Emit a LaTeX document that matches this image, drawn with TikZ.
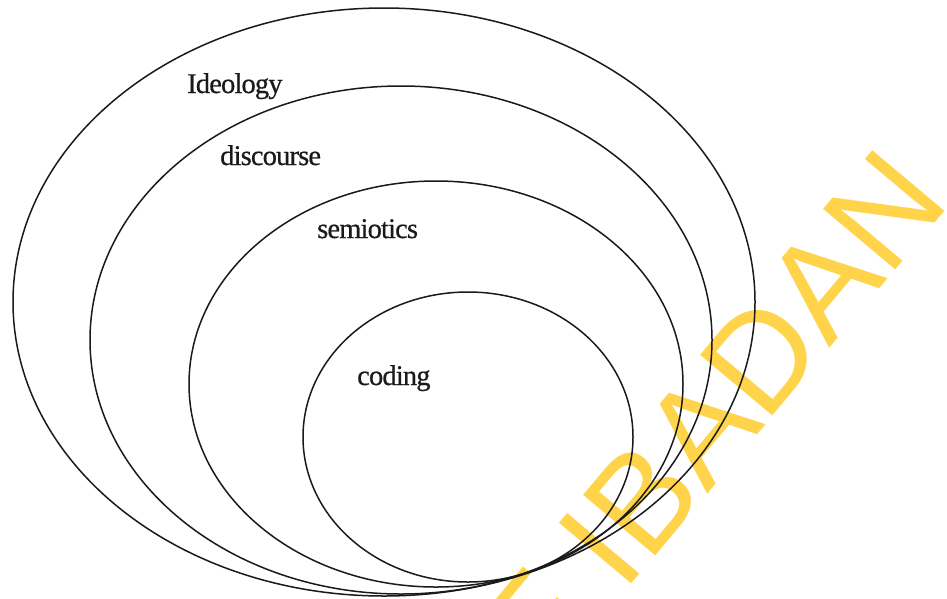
\documentclass[tikz,border=0pt]{standalone}
\usepackage{fontspec}
\setmainfont{Liberation Serif}
\newfontfamily\wmfont{Liberation Sans}
\newfontfamily\lblfont[LetterSpace=-3,FakeBold=0.6]{Liberation Serif}
\usetikzlibrary{shapes.geometric}
\definecolor{wmyellow}{HTML}{FFD44A}
\definecolor{ink}{HTML}{1A1A1A}
\tikzset{
  ring/.style={draw=ink, line width=1.5pt, ellipse, inner sep=0pt},
  lbl/.style={anchor=base west, inner sep=0pt, font=\lblfont\fontsize{28.5}{30}\selectfont, text=ink},
  watermark/.style={anchor=base east, inner sep=0pt, rotate=50, text=wmyellow, font=\wmfont\fontsize{137}{137}\selectfont}
}
\begin{document}
\begin{tikzpicture}[x=1pt, y=-1pt]
\useasboundingbox (0,0) rectangle (947,598);
\clip (0,0) rectangle (947,598);
\fill[white] (0,0) rectangle (947,598);
\node[watermark] (wm) at (952,203) {UNIVERSITY OF IBADAN};
\node[ring, minimum width=742pt, minimum height=588pt] (ideology) at (384,302) {};
\node[ring, minimum width=622pt, minimum height=508pt] (discourse) at (401,340) {};
\node[ring, minimum width=494pt, minimum height=406pt] (semiotics) at (436,384) {};
\node[ring, minimum width=330pt, minimum height=290pt] (coding) at (468,437) {};
\node[lbl] (tideology) at (187,93) {Ideology};
\node[lbl] (tdiscourse) at (220,165) {discourse};
\node[lbl] (tsemiotics) at (317,238) {semiotics};
\node[lbl] (tcoding) at (357,385) {coding};
\end{tikzpicture}
\end{document}
